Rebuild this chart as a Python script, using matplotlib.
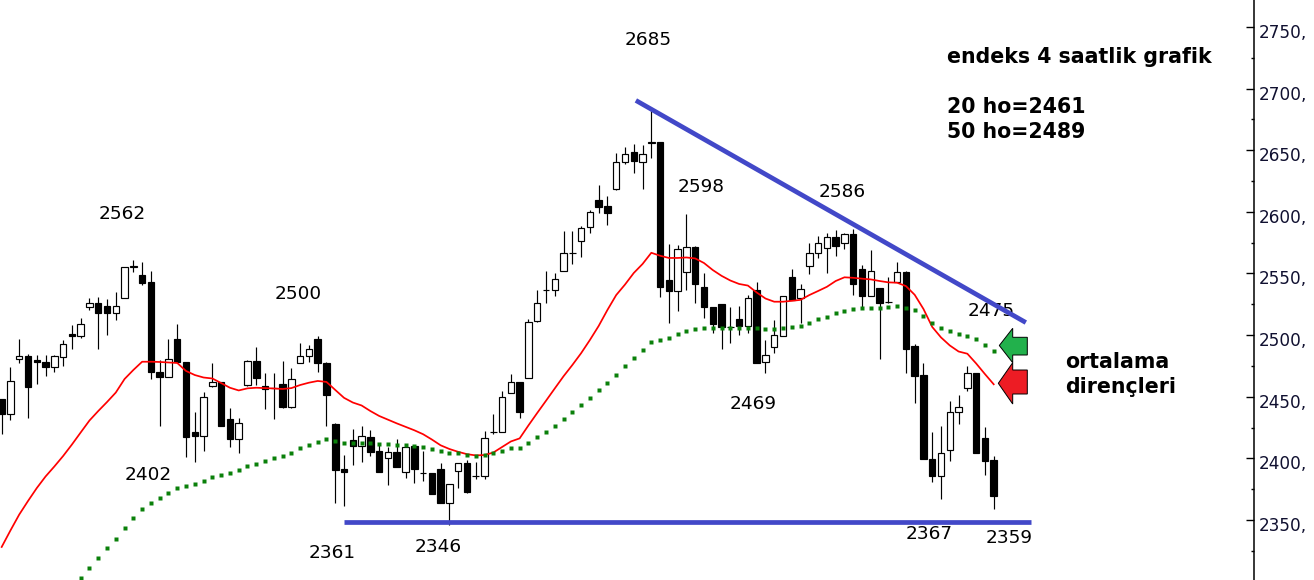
import numpy as np
import matplotlib
matplotlib.use('Agg')
import matplotlib.pyplot as plt
from matplotlib.patches import Polygon
from matplotlib.transforms import ScaledTranslation

# ---------------- data (4-hour candles) ----------------
opens = [2448, 2436, 2481, 2483, 2480, 2478, 2474, 2482.5, 2501, 2499,
         2523, 2526, 2524, 2518, 2530, 2555, 2549, 2543, 2470, 2466,
         2497, 2478, 2421, 2418, 2459, 2462, 2432, 2415.5, 2459.5, 2479,
         2459, 2457, 2460, 2442, 2477, 2483, 2497, 2477.6, 2428, 2391,
         2415, 2410, 2417, 2406, 2400, 2405, 2389.2, 2410, 2388, 2388,
         2391, 2364, 2390, 2396, 2385.5, 2385.7, 2421, 2421.1, 2452.8, 2461.7,
         2465, 2511.4, 2536.4, 2536.6, 2552.3, 2566.7, 2576.6, 2587.5, 2609.6, 2604.8,
         2618.3, 2640.2, 2648.8, 2640.7, 2656.2, 2656.4, 2544.7, 2536, 2551.5, 2571.7,
         2538.8, 2522.6, 2525.2, 2506.6, 2512.8, 2507.4, 2536.6, 2478, 2490, 2499.5,
         2547, 2530, 2556, 2566.4, 2570.4, 2579.4, 2574.5, 2582, 2553.4, 2532,
         2538, 2527, 2543.3, 2551, 2491.2, 2467.6, 2399.5, 2386, 2406.8, 2437.4,
         2457, 2469, 2416.3, 2398.7]
highs = [2448, 2474, 2497, 2485, 2484, 2484, 2484, 2496, 2508, 2514,
         2530, 2531, 2529, 2535, 2555, 2561, 2559, 2552, 2480, 2497,
         2509, 2478, 2438, 2454, 2477, 2462, 2441, 2432.5, 2480, 2490.5,
         2469, 2469, 2479, 2473, 2494, 2492, 2499, 2478, 2429, 2403,
         2424, 2426, 2423, 2411, 2409.5, 2415.7, 2411.6, 2411, 2405.6, 2388,
         2396, 2379, 2396, 2398.7, 2397.3, 2422, 2436, 2454.6, 2468.4, 2462,
         2513, 2537, 2552, 2550, 2584.5, 2584.5, 2588.5, 2601.5, 2621.8, 2613,
         2648, 2653, 2655, 2654.3, 2685, 2656.4, 2574, 2573, 2598, 2572,
         2550.2, 2522.6, 2525.2, 2522.6, 2523.6, 2532.5, 2542.8, 2496, 2512.3, 2532,
         2553.6, 2541.5, 2575, 2580.4, 2582.6, 2585.3, 2583, 2586, 2557, 2569,
         2538, 2547, 2559, 2552.3, 2492.8, 2477, 2421, 2426.3, 2446.5, 2451.4,
         2475, 2469, 2425.2, 2402]
lows = [2420, 2431, 2477, 2433, 2460, 2467, 2470, 2475, 2489, 2498,
        2520, 2489, 2500, 2512, 2530, 2551.5, 2541, 2464, 2426, 2466,
        2477, 2401, 2397, 2406, 2458, 2426, 2409.5, 2404, 2459, 2459.5,
        2440, 2432, 2441, 2440.6, 2477, 2478, 2470, 2426, 2364, 2361,
        2395, 2397, 2402, 2389, 2378.4, 2393, 2384.3, 2380, 2381.6, 2370.8,
        2364, 2346, 2375.7, 2371.6, 2383, 2383, 2419.5, 2421, 2452.8, 2432.5,
        2465, 2511, 2526, 2532, 2552, 2557.7, 2563.6, 2582.6, 2599.3, 2589.3,
        2618, 2638.6, 2631.3, 2618.3, 2644, 2531.2, 2509.6, 2519.8, 2536.6, 2525.8,
        2513.6, 2501.5, 2488.5, 2493.4, 2500, 2501.5, 2477.6, 2469, 2485.2, 2499,
        2528.5, 2509.6, 2549.6, 2562.3, 2550.6, 2564.4, 2569.6, 2532.5, 2522.6, 2532,
        2481, 2526.3, 2543, 2469.5, 2445.2, 2399.5, 2381, 2367, 2398, 2427.6,
        2455, 2404, 2386.5, 2359]
closes = [2436, 2463, 2483, 2458, 2478, 2474, 2483, 2492.5, 2499, 2509,
          2526, 2518, 2518, 2524, 2555, 2556, 2542, 2470, 2466, 2481,
          2478, 2417, 2418, 2449.5, 2462, 2426.5, 2415.5, 2429, 2479, 2465,
          2456.3, 2456.8, 2441.4, 2464, 2483, 2488.5, 2477, 2451.6, 2390.5, 2389,
          2410, 2418, 2405.4, 2389.2, 2405, 2393.2, 2409, 2391.4, 2387.9, 2370.8,
          2364, 2379, 2396, 2373, 2385.7, 2416.3, 2421.2, 2449.5, 2461.7, 2437.4,
          2511, 2526, 2536.6, 2545.3, 2566.4, 2566.9, 2586.7, 2599.6, 2604.2, 2599.3,
          2640.2, 2646.7, 2641.5, 2646.7, 2656.4, 2538.8, 2536, 2569.6, 2571.7, 2541.2,
          2522.6, 2509, 2506.8, 2506.8, 2507.4, 2529.9, 2477.6, 2484, 2500, 2531.7,
          2528.5, 2537.2, 2566.4, 2574.5, 2579.4, 2572.5, 2581.8, 2541.2, 2532, 2552.3,
          2526.3, 2527.1, 2551, 2488.5, 2467.1, 2399.5, 2385.7, 2404, 2437.4, 2442,
          2469, 2404, 2398, 2369.7]

# 20-period moving average (red line)
ma20 = [2328.1, 2341.5, 2354.4, 2365.4, 2375.9, 2385.3, 2393.4, 2401.9, 2411.2, 2421,
        2430.7, 2438.4, 2445.7, 2453.4, 2464.4, 2471.7, 2478.4, 2478.4, 2478.2, 2477.8,
        2477.4, 2470.9, 2467.6, 2465.6, 2464.8, 2461.1, 2457.3, 2455.1, 2456.8, 2457.3,
        2457, 2456.7, 2456.3, 2457, 2459.5, 2461.4, 2462.8, 2462, 2455.5, 2449.1,
        2445.3, 2442.9, 2438.4, 2434.4, 2431.4, 2428.4, 2425.6, 2422.8, 2419.6, 2415.3,
        2410.6, 2407.6, 2405.3, 2403.4, 2402.4, 2402.7, 2404.7, 2409.2, 2413.7, 2416.2,
        2426.7, 2436.8, 2446.7, 2456.7, 2466.6, 2475.7, 2485.3, 2496, 2507.4, 2520.4,
        2532.5, 2541, 2550.4, 2557.7, 2566.8, 2564.4, 2562.6, 2562.6, 2563, 2562.2,
        2558.5, 2552.8, 2548.1, 2544.3, 2541.5, 2540.2, 2534.6, 2529.7, 2527.1, 2527.1,
        2527.8, 2528.6, 2532.5, 2535.8, 2539.2, 2543.9, 2546.9, 2546.5, 2545.8, 2545.2,
        2543.9, 2542.8, 2542.5, 2539.8, 2532.7, 2521.2, 2506.6, 2498.1, 2491.6, 2486.7,
        2484.9, 2477, 2468.4, 2460.1]

# 50-period moving average (green dotted line); first values are below the view
nan = float('nan')
ma50 = [nan, nan, nan, nan, nan, nan, nan, nan, nan, 2303.2,
        2311.3, 2319.4, 2327.5, 2334.6, 2343.7, 2351.8, 2358.9, 2364, 2368.1, 2372.1,
        2376.2, 2377.8, 2379.4, 2381.9, 2385.1, 2386.5, 2388.4, 2390.3, 2393.5, 2395.4,
        2398.1, 2400.5, 2402.2, 2404.6, 2408.2, 2410.8, 2413.5, 2415.5, 2414.1, 2412.7,
        2412.7, 2412.7, 2412.7, 2411.6, 2411.4, 2410.8, 2410.8, 2410, 2409, 2407.8,
        2406, 2404.6, 2404.6, 2403, 2402.2, 2403, 2404.1, 2405.9, 2408.2, 2408.6,
        2412.7, 2417.6, 2421.6, 2426.5, 2431.9, 2437.4, 2443.3, 2449.2, 2455.5, 2461.4,
        2467.6, 2474.9, 2481.7, 2487.9, 2494.7, 2496, 2497.9, 2500.7, 2503.3, 2505,
        2506, 2506, 2506, 2506, 2506, 2506, 2505.5, 2504.7, 2504.7, 2505.5,
        2506.8, 2507.6, 2509.6, 2512.8, 2514.9, 2517.7, 2519.8, 2520.9, 2521.7, 2522.2,
        2522.2, 2522.6, 2523.6, 2522.2, 2520.4, 2515.7, 2510.1, 2506, 2503.6, 2501.1,
        2499.5, 2496.6, 2492, 2487.1]

# trend lines (candle index, price)
resistance_x = [72.24, 116.66]
resistance_y = [2690.4, 2510.2]
support_x = [39.0, 117.3]
support_level = 2348.2

# price annotations
label_texts = ['2685', '2562', '2500', '2598', '2586', '2475',
               '2402', '2469', '2361', '2346', '2367', '2359']
label_idx = [73.7, 13.7, 33.75, 79.7, 95.7, 112.75,
             16.66, 85.57, 37.68, 49.73, 105.7, 114.7]
label_val = [2735.4, 2594.2, 2529.3, 2616.4, 2612.1, 2515.7,
             2382.4, 2440.0, 2318.9, 2324.3, 2334.3, 2331.6]

yticks = [2350, 2400, 2450, 2500, 2550, 2600, 2650, 2700, 2750]
ytick_labels = [f"{t}," for t in yticks]
yminor = [2325, 2375, 2425, 2475, 2525, 2575, 2625, 2675, 2725]

# ---------------- figure ----------------
W, H = 1314, 580
fig = plt.figure(figsize=(W / 100, H / 100), dpi=100)
ax = fig.add_axes([0, 0, 1254 / W, 1])

n = len(closes)
idx = np.arange(n)
o = np.array(opens, float)
c = np.array(closes, float)
hi = np.array(highs, float)
lo = np.array(lows, float)
up = c >= o

ax.set_xlim(-0.19, 142.65)
ax.set_ylim(2301.3, 2771.9)

ax.vlines(idx, lo, hi, color='black', lw=0.85, zorder=2)
ax.bar(idx, np.abs(c - o), width=0.74, bottom=np.minimum(o, c),
       color=np.where(up, 'white', 'black'), edgecolor='black',
       linewidth=0.85, zorder=3)

ax.plot(idx, ma20, color='#ff0000', lw=1.25, zorder=4)
ax.plot(idx, ma50, ls='none', marker='s', ms=3.0, color='#0a800a',
        mec='none', zorder=4)

ax.plot(resistance_x, resistance_y, color='#4248c8', lw=3.4,
        solid_capstyle='butt', zorder=6)
ax.plot(support_x, [support_level, support_level], color='#4248c8', lw=3.4,
        solid_capstyle='butt', zorder=6)

for t, xi, yv in zip(label_texts, label_idx, label_val):
    ax.text(xi, yv, t, fontsize=13.3, ha='center', va='baseline',
            color='black', zorder=5)

# axes styling
for s in ['top', 'left', 'bottom']:
    ax.spines[s].set_visible(False)
ax.spines['right'].set_linewidth(1.1)
ax.set_xticks([])
ax.yaxis.tick_right()
ax.set_yticks(yticks)
ax.set_yticklabels(ytick_labels)
ax.set_yticks(yminor, minor=True)
ax.tick_params(axis='y', which='major', direction='in', length=6, width=1,
               pad=3.6, labelsize=12.2, labelcolor='#101030')
ax.tick_params(axis='y', which='minor', direction='in', length=2.5, width=1)
off = ScaledTranslation(0, -4 / 100, fig.dpi_scale_trans)
for lab in ax.get_yticklabels():
    lab.set_transform(lab.get_transform() + off)


def fp(pts):
    return [(x / W, 1 - y / H) for x, y in pts]


green_arrow = [(999.3, 345.5), (1012.7, 328.3), (1012.7, 337.3), (1027.3, 337.3),
               (1027.3, 355), (1012.7, 355), (1012.7, 362.7)]
red_arrow = [(998.3, 383.3), (1012.7, 362.7), (1012.7, 370), (1027.3, 370),
             (1027.3, 394), (1012.7, 394), (1012.7, 404)]
fig.add_artist(Polygon(fp(green_arrow), closed=True, facecolor='#22b14c',
                       edgecolor='black', lw=0.7, transform=fig.transFigure, zorder=7))
fig.add_artist(Polygon(fp(red_arrow), closed=True, facecolor='#ed1c24',
                       edgecolor='black', lw=0.7, transform=fig.transFigure, zorder=7))

bold = dict(fontsize=14.8, fontweight='bold', color='black', ha='left', va='baseline')
fig.text(947 / W, 1 - 62.7 / H, 'endeks 4 saatlik grafik', **bold)
fig.text(947 / W, 1 - 112.7 / H, '20 ho=2461', **bold)
fig.text(947 / W, 1 - 138.3 / H, '50 ho=2489', **bold)
fig.text(1065 / W, 1 - 368.3 / H, 'ortalama', **bold)
fig.text(1065 / W, 1 - 392.7 / H, 'dirençleri', **bold)

fig.savefig('out.png', dpi=100, facecolor='white')
